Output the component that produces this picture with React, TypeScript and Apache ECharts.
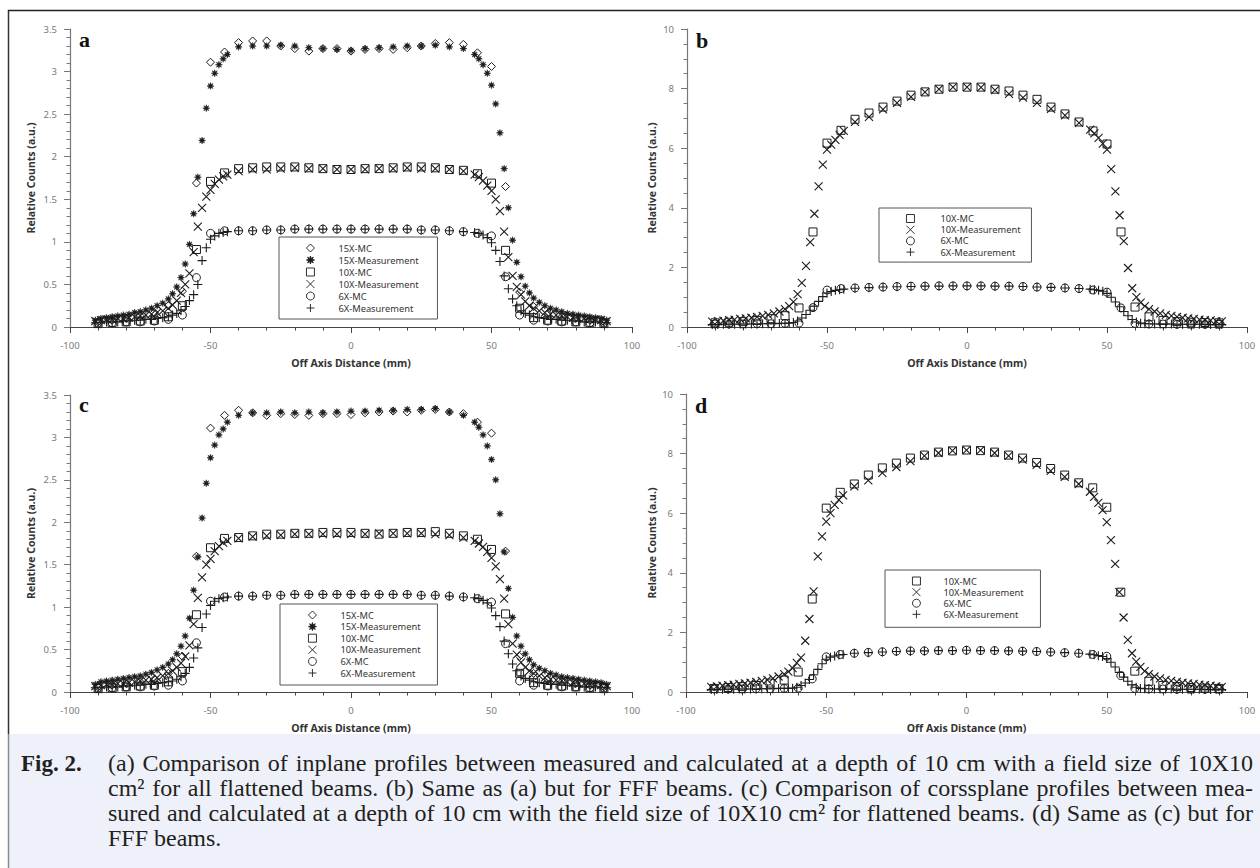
import React, { useEffect, useRef } from 'react';
import * as echarts from 'echarts';

const FONT = 'Noto Sans';
const SERIF = 'Liberation Serif';

// ---------- data ----------
const xMC = [-90, -85, -80, -75, -70, -65, -60, -55, -50, -45, -40, -35, -30, -25, -20, -15, -10, -5, 0,
  5, 10, 15, 20, 25, 30, 35, 40, 45, 50, 55, 60, 65, 70, 75, 80, 85, 90];

const xMeas = [-91, -89, -87, -85, -83, -81, -79, -77, -75, -73, -71, -69, -67, -65,
  -63.5, -62, -60.5, -59, -57.5, -56, -54.5, -53, -51.5, -50, -48.5, -47, -45.5, -44,
  -40, -35, -30, -25, -20, -15, -10, -5, 0, 5, 10, 15, 20, 25, 30, 35, 40,
  44, 45.5, 47, 48.5, 50, 51.5, 53, 54.5, 56, 57.5, 59, 60.5, 62, 63.5,
  65, 67, 69, 71, 73, 75, 77, 79, 81, 83, 85, 87, 89, 91];

// panel a: inplane, flattened
const aMC15 = [0.06, 0.08, 0.10, 0.13, 0.17, 0.25, 0.42, 1.69, 3.11, 3.23, 3.34, 3.36, 3.36, 3.30, 3.27, 3.24, 3.27, 3.27, 3.24,
  3.26, 3.27, 3.26, 3.28, 3.30, 3.33, 3.34, 3.32, 3.22, 3.06, 1.65, 0.41, 0.24, 0.16, 0.12, 0.10, 0.08, 0.06];
const aMeas15 = [0.08, 0.10, 0.11, 0.12, 0.13, 0.14, 0.15, 0.17, 0.18, 0.20, 0.22, 0.25, 0.28, 0.33,
  0.39, 0.47, 0.58, 0.74, 0.97, 1.33, 1.76, 2.19, 2.57, 2.83, 2.98, 3.08, 3.15, 3.20,
  3.29, 3.30, 3.30, 3.31, 3.30, 3.28, 3.27, 3.26, 3.25, 3.27, 3.28, 3.29, 3.30, 3.30, 3.31, 3.29, 3.27,
  3.20, 3.15, 3.08, 2.98, 2.84, 2.62, 2.28, 1.86, 1.40, 1.02, 0.76, 0.59, 0.48, 0.40,
  0.34, 0.29, 0.25, 0.22, 0.20, 0.18, 0.16, 0.15, 0.14, 0.13, 0.12, 0.11, 0.10, 0.08];
const aMC10 = [0.04, 0.05, 0.06, 0.07, 0.08, 0.12, 0.25, 0.91, 1.71, 1.81, 1.86, 1.87, 1.88, 1.88, 1.88, 1.87, 1.86, 1.85, 1.85,
  1.86, 1.86, 1.87, 1.88, 1.88, 1.87, 1.85, 1.84, 1.80, 1.69, 0.90, 0.22, 0.11, 0.08, 0.07, 0.06, 0.05, 0.04];
const aMeas10 = [0.07, 0.08, 0.09, 0.09, 0.10, 0.10, 0.11, 0.12, 0.13, 0.14, 0.15, 0.17, 0.19, 0.22,
  0.26, 0.31, 0.40, 0.50, 0.63, 0.88, 1.18, 1.40, 1.53, 1.61, 1.68, 1.73, 1.77, 1.79,
  1.83, 1.85, 1.85, 1.86, 1.87, 1.86, 1.86, 1.85, 1.85, 1.85, 1.86, 1.86, 1.87, 1.86, 1.86, 1.85, 1.83,
  1.79, 1.76, 1.72, 1.66, 1.60, 1.50, 1.36, 1.12, 0.82, 0.60, 0.47, 0.38, 0.30, 0.25,
  0.22, 0.19, 0.17, 0.15, 0.14, 0.13, 0.12, 0.11, 0.10, 0.10, 0.09, 0.09, 0.08, 0.07];
const aMC6 = [0.05, 0.05, 0.06, 0.06, 0.07, 0.09, 0.14, 0.58, 1.10, 1.13, 1.13, 1.13, 1.14, 1.14, 1.15, 1.15, 1.15, 1.15, 1.15,
  1.15, 1.15, 1.15, 1.15, 1.14, 1.14, 1.13, 1.12, 1.10, 1.07, 0.59, 0.14, 0.08, 0.07, 0.06, 0.06, 0.05, 0.05];
const aMeas6 = [0.05, 0.05, 0.06, 0.06, 0.06, 0.07, 0.07, 0.08, 0.08, 0.09, 0.09, 0.10, 0.11, 0.12,
  0.14, 0.16, 0.19, 0.24, 0.31, 0.38, 0.50, 0.78, 0.93, 1.03, 1.07, 1.10, 1.11, 1.12,
  1.13, 1.13, 1.14, 1.14, 1.15, 1.15, 1.15, 1.15, 1.15, 1.15, 1.15, 1.15, 1.15, 1.14, 1.14, 1.13, 1.12,
  1.11, 1.10, 1.08, 1.05, 0.99, 0.90, 0.77, 0.60, 0.45, 0.33, 0.25, 0.19, 0.16, 0.14,
  0.12, 0.11, 0.10, 0.09, 0.09, 0.08, 0.08, 0.07, 0.07, 0.06, 0.06, 0.06, 0.05, 0.05];

// panel b: inplane, FFF
const bMC10 = [0.14, 0.16, 0.18, 0.22, 0.28, 0.38, 0.64, 3.19, 6.17, 6.60, 6.97, 7.18, 7.38, 7.58, 7.78, 7.89, 7.98, 8.05, 8.05,
  8.05, 7.98, 7.92, 7.78, 7.64, 7.38, 7.15, 6.88, 6.58, 6.14, 3.19, 0.67, 0.34, 0.22, 0.18, 0.16, 0.15, 0.14];
const bMeas10 = [0.18, 0.20, 0.21, 0.23, 0.25, 0.27, 0.29, 0.31, 0.34, 0.37, 0.41, 0.46, 0.52, 0.60,
  0.70, 0.84, 1.10, 1.48, 2.05, 2.85, 3.80, 4.72, 5.45, 5.95, 6.12, 6.28, 6.45, 6.58,
  6.88, 7.05, 7.30, 7.52, 7.72, 7.88, 7.98, 8.05, 8.05, 8.04, 7.95, 7.82, 7.70, 7.52, 7.32, 7.10, 6.85,
  6.62, 6.50, 6.35, 6.15, 5.95, 5.30, 4.55, 3.75, 2.88, 1.98, 1.30, 1.00, 0.82, 0.70,
  0.60, 0.52, 0.46, 0.41, 0.37, 0.34, 0.31, 0.29, 0.27, 0.25, 0.23, 0.22, 0.20, 0.19];
const bMC6 = [0.10, 0.10, 0.10, 0.11, 0.11, 0.12, 0.13, 0.65, 1.24, 1.29, 1.31, 1.33, 1.34, 1.36, 1.37, 1.37, 1.38, 1.38, 1.38,
  1.38, 1.37, 1.37, 1.36, 1.34, 1.33, 1.31, 1.29, 1.24, 1.17, 0.64, 0.12, 0.10, 0.10, 0.09, 0.09, 0.09, 0.09];
const bMeas6 = [0.08, 0.08, 0.09, 0.09, 0.09, 0.10, 0.10, 0.10, 0.10, 0.11, 0.11, 0.11, 0.12, 0.12,
  0.13, 0.15, 0.20, 0.30, 0.42, 0.56, 0.70, 0.86, 1.02, 1.14, 1.19, 1.23, 1.25, 1.27,
  1.30, 1.32, 1.34, 1.35, 1.36, 1.37, 1.37, 1.38, 1.38, 1.38, 1.37, 1.37, 1.36, 1.34, 1.33, 1.31, 1.29,
  1.27, 1.25, 1.23, 1.20, 1.13, 1.00, 0.84, 0.68, 0.52, 0.38, 0.25, 0.17, 0.13, 0.11,
  0.11, 0.10, 0.10, 0.10, 0.10, 0.09, 0.09, 0.09, 0.09, 0.09, 0.08, 0.08, 0.08, 0.08];

// panel c: crossplane, flattened
const cMC15 = [0.06, 0.08, 0.10, 0.12, 0.15, 0.22, 0.42, 1.60, 3.11, 3.26, 3.32, 3.29, 3.26, 3.28, 3.27, 3.26, 3.28, 3.28, 3.27,
  3.29, 3.30, 3.31, 3.30, 3.32, 3.33, 3.30, 3.28, 3.18, 3.05, 1.66, 0.42, 0.22, 0.15, 0.12, 0.10, 0.08, 0.06];
const cMeas15 = [0.09, 0.12, 0.13, 0.14, 0.15, 0.16, 0.17, 0.18, 0.19, 0.21, 0.23, 0.26, 0.29, 0.33,
  0.38, 0.45, 0.54, 0.66, 0.87, 1.20, 1.59, 2.05, 2.46, 2.76, 2.91, 3.03, 3.10, 3.18,
  3.26, 3.29, 3.29, 3.30, 3.29, 3.30, 3.29, 3.30, 3.31, 3.31, 3.32, 3.32, 3.33, 3.33, 3.34, 3.30, 3.26,
  3.18, 3.12, 3.03, 2.90, 2.74, 2.50, 2.10, 1.65, 1.22, 0.88, 0.66, 0.54, 0.45, 0.38,
  0.32, 0.28, 0.25, 0.22, 0.20, 0.18, 0.17, 0.16, 0.15, 0.14, 0.13, 0.12, 0.11, 0.09];
const cMC10 = [0.04, 0.05, 0.06, 0.07, 0.08, 0.12, 0.24, 0.91, 1.70, 1.81, 1.82, 1.84, 1.86, 1.86, 1.87, 1.87, 1.88, 1.88, 1.88,
  1.87, 1.86, 1.87, 1.88, 1.88, 1.89, 1.87, 1.84, 1.80, 1.68, 0.92, 0.22, 0.11, 0.08, 0.07, 0.06, 0.05, 0.04];
const cMeas10 = [0.07, 0.08, 0.09, 0.09, 0.10, 0.10, 0.11, 0.12, 0.13, 0.14, 0.15, 0.17, 0.19, 0.22,
  0.25, 0.29, 0.34, 0.42, 0.55, 0.80, 1.11, 1.35, 1.50, 1.57, 1.66, 1.72, 1.76, 1.78,
  1.81, 1.83, 1.84, 1.85, 1.86, 1.86, 1.86, 1.86, 1.86, 1.86, 1.87, 1.87, 1.87, 1.87, 1.86, 1.85, 1.82,
  1.78, 1.75, 1.71, 1.65, 1.58, 1.48, 1.33, 1.10, 0.80, 0.57, 0.44, 0.35, 0.29, 0.25,
  0.22, 0.19, 0.17, 0.15, 0.14, 0.13, 0.12, 0.11, 0.10, 0.10, 0.09, 0.09, 0.08, 0.07];
const cMC6 = [0.05, 0.05, 0.06, 0.06, 0.07, 0.08, 0.13, 0.58, 1.07, 1.12, 1.13, 1.13, 1.14, 1.14, 1.15, 1.15, 1.15, 1.15, 1.15,
  1.15, 1.15, 1.15, 1.15, 1.14, 1.14, 1.13, 1.12, 1.10, 1.06, 0.57, 0.13, 0.08, 0.07, 0.06, 0.06, 0.05, 0.05];
const cMeas6 = [0.05, 0.05, 0.06, 0.06, 0.06, 0.07, 0.07, 0.08, 0.08, 0.09, 0.09, 0.10, 0.11, 0.12,
  0.13, 0.15, 0.18, 0.22, 0.29, 0.40, 0.52, 0.76, 0.92, 1.02, 1.07, 1.10, 1.11, 1.12,
  1.13, 1.13, 1.14, 1.14, 1.15, 1.15, 1.15, 1.15, 1.15, 1.15, 1.15, 1.15, 1.15, 1.14, 1.14, 1.13, 1.12,
  1.11, 1.10, 1.08, 1.05, 0.99, 0.90, 0.77, 0.60, 0.45, 0.33, 0.25, 0.19, 0.16, 0.14,
  0.12, 0.11, 0.10, 0.09, 0.09, 0.08, 0.08, 0.07, 0.07, 0.06, 0.06, 0.06, 0.05, 0.05];

// panel d: crossplane, FFF
const dMC10 = [0.12, 0.15, 0.18, 0.22, 0.30, 0.40, 0.67, 3.12, 6.17, 6.70, 6.98, 7.28, 7.52, 7.68, 7.85, 7.95, 8.05, 8.09, 8.12,
  8.10, 8.05, 7.95, 7.85, 7.70, 7.50, 7.28, 7.02, 6.85, 6.20, 3.35, 0.70, 0.36, 0.22, 0.18, 0.15, 0.13, 0.12];
const dMeas10 = [0.17, 0.19, 0.21, 0.23, 0.25, 0.27, 0.29, 0.31, 0.34, 0.37, 0.41, 0.46, 0.52, 0.60,
  0.68, 0.80, 0.98, 1.15, 1.72, 2.45, 3.38, 4.55, 5.22, 5.72, 6.00, 6.28, 6.45, 6.60,
  6.90, 7.10, 7.35, 7.55, 7.75, 7.92, 8.02, 8.10, 8.12, 8.12, 8.02, 7.92, 7.80, 7.62, 7.42, 7.22, 6.98,
  6.72, 6.55, 6.35, 6.10, 5.70, 5.10, 4.30, 3.35, 2.50, 1.75, 1.30, 1.02, 0.84, 0.70,
  0.60, 0.52, 0.46, 0.41, 0.37, 0.34, 0.31, 0.29, 0.27, 0.25, 0.23, 0.21, 0.19, 0.17];
const dMC6 = [0.10, 0.10, 0.10, 0.11, 0.11, 0.12, 0.13, 0.44, 1.18, 1.26, 1.30, 1.33, 1.35, 1.37, 1.38, 1.38, 1.39, 1.39, 1.40,
  1.39, 1.39, 1.38, 1.37, 1.36, 1.34, 1.32, 1.30, 1.26, 1.20, 0.55, 0.12, 0.10, 0.10, 0.09, 0.09, 0.09, 0.09];
const dMeas6 = [0.08, 0.08, 0.09, 0.09, 0.09, 0.10, 0.10, 0.10, 0.10, 0.11, 0.11, 0.11, 0.12, 0.12,
  0.12, 0.13, 0.16, 0.22, 0.30, 0.42, 0.58, 0.76, 0.95, 1.10, 1.17, 1.21, 1.24, 1.26,
  1.30, 1.32, 1.34, 1.36, 1.37, 1.38, 1.39, 1.39, 1.40, 1.39, 1.39, 1.38, 1.37, 1.36, 1.34, 1.32, 1.30,
  1.27, 1.25, 1.22, 1.19, 1.12, 1.00, 0.84, 0.66, 0.50, 0.36, 0.24, 0.16, 0.12, 0.11,
  0.11, 0.10, 0.10, 0.10, 0.10, 0.09, 0.09, 0.09, 0.09, 0.09, 0.08, 0.08, 0.08, 0.08];

// ---------- labels ----------
const LEGEND_FLAT = ['15X-MC', '15X-Measurement', '10X-MC', '10X-Measurement', '6X-MC', '6X-Measurement'];
const LEGEND_FFF = ['10X-MC', '10X-Measurement', '6X-MC', '6X-Measurement'];
const Y_TITLE = 'Relative Counts (a.u.)';
const X_TITLE = 'Off Axis Distance (mm)';
const PANEL_LETTERS = ['a', 'b', 'c', 'd'];
const CAPTION_LABEL = 'Fig. 2.';
const CAPTION_LINES = [
  '(a) Comparison of inplane profiles between measured and calculated at a depth of 10 cm with a field size of 10X10',
  'cm\u00B2 for all flattened beams. (b) Same as (a) but for FFF beams. (c) Comparison of corssplane profiles between mea-',
  'sured and calculated at a depth of 10 cm with the field size of 10X10 cm\u00B2 for flattened beams. (d) Same as (c) but for',
  'FFF beams.',
];

// ---------- styling ----------
const INK = '#1c1c1c';
const CLEAR = 'rgba(0,0,0,0)';
const SYMBOLS: Record<string, { symbol: string; size: number; fill: string; bw: number }> = {
  '15X-MC': { symbol: 'path://M5,0L10,5L5,10L0,5Z', size: 8, fill: CLEAR, bw: 1 },
  '15X-Measurement': {
    symbol: 'path://M5,0L5.84,2.97L8.54,1.46L7.03,4.16L10,5L7.03,5.84L8.54,8.54L5.84,7.03L5,10L4.16,7.03L1.46,8.54L2.97,5.84L0,5L2.97,4.16L1.46,1.46L4.16,2.97Z',
    size: 7, fill: INK, bw: 0.5,
  },
  '10X-MC': { symbol: 'rect', size: 8, fill: CLEAR, bw: 1 },
  '10X-Measurement': { symbol: 'path://M0,0L10,10M10,0L0,10', size: 8, fill: CLEAR, bw: 1.1 },
  '6X-MC': { symbol: 'circle', size: 8, fill: CLEAR, bw: 1 },
  '6X-Measurement': { symbol: 'path://M5,0L5,10M0,5L10,5', size: 9, fill: CLEAR, bw: 1.1 },
};

const GRIDS = [
  { left: 70, top: 29, width: 562, height: 298 },
  { left: 687, top: 29, width: 560, height: 298 },
  { left: 70, top: 395, width: 562, height: 297 },
  { left: 686, top: 394, width: 561, height: 298 },
];

function pairs(xs: number[], ys: number[]) {
  const out: number[][] = [];
  for (let i = 0; i < xs.length && i < ys.length; i++) out.push([xs[i], ys[i]]);
  return out;
}

function scatter(name: string, idx: number, xs: number[], ys: number[]) {
  const s = SYMBOLS[name];
  return {
    type: 'scatter',
    name,
    xAxisIndex: idx,
    yAxisIndex: idx,
    data: pairs(xs, ys),
    symbol: s.symbol,
    symbolSize: s.size,
    itemStyle: { color: s.fill, borderColor: INK, borderWidth: s.bw, opacity: 1 },
    silent: true,
    emphasis: { disabled: true },
  };
}

function xAxisCfg(i: number) {
  return {
    type: 'value', gridIndex: i, min: -100, max: 100, interval: 50,
    name: X_TITLE, nameLocation: 'middle', nameGap: 30,
    nameTextStyle: { fontFamily: FONT, fontSize: 10.5, fontWeight: 'bold', color: '#333' },
    axisLine: { show: true, onZero: false, lineStyle: { color: '#444', width: 1.2 } },
    axisTick: { show: true, length: 6, lineStyle: { color: '#444', width: 1 } },
    minorTick: { show: true, splitNumber: 5, length: 3.5, lineStyle: { color: '#444', width: 1 } },
    axisLabel: { fontFamily: FONT, fontSize: 9.5, color: '#7a7a7a', margin: 13 },
    splitLine: { show: false },
  };
}

function yAxisCfg(i: number) {
  const flat = i === 0 || i === 2;
  const gaps = [34, 30, 34, 29];
  return {
    type: 'value', gridIndex: i, min: 0, max: flat ? 3.5 : 10, interval: flat ? 0.5 : 2,
    name: Y_TITLE, nameLocation: 'middle', nameGap: gaps[i], nameRotate: 90,
    nameTextStyle: { fontFamily: FONT, fontSize: 10.5, fontWeight: 'bold', color: '#333' },
    axisLine: { show: true, onZero: false, lineStyle: { color: '#777', width: 1.2 } },
    axisTick: { show: true, length: 6, lineStyle: { color: '#777', width: 1 } },
    minorTick: { show: true, splitNumber: flat ? 5 : 4, length: 3.5, lineStyle: { color: '#777', width: 1 } },
    axisLabel: { fontFamily: FONT, fontSize: 9.5, color: '#7a7a7a', margin: 13 },
    splitLine: { show: false },
  };
}

function legendCfg(names: string[], left: number, top: number, pad: number[], gap: number, textPad: number, textW: number) {
  return {
    data: names, orient: 'vertical', left, top, padding: pad, itemGap: gap,
    itemWidth: 8, itemHeight: 8, selectedMode: false,
    borderColor: '#555', borderWidth: 1, backgroundColor: '#fff',
    itemStyle: { borderWidth: 0.9 },
    textStyle: { fontFamily: FONT, fontSize: 9.3, color: '#333', lineHeight: 10, padding: [0, 0, 0, textPad], width: textW, overflow: 'none' },
  };
}

function buildGraphics() {
  const els: any[] = [];
  els.push({ type: 'rect', silent: true, z: -10, shape: { x: 8, y: 734, width: 1252, height: 134 }, style: { fill: '#eef1f9' } });
  els.push({ type: 'line', silent: true, shape: { x1: 8.5, y1: 10, x2: 8.5, y2: 734 }, style: { stroke: '#333', lineWidth: 1.5 } });
  els.push({ type: 'line', silent: true, shape: { x1: 8.5, y1: 734, x2: 8.5, y2: 868 }, style: { stroke: '#8a8a8a', lineWidth: 1.5 } });
  els.push({ type: 'line', silent: true, shape: { x1: 8, y1: 10.5, x2: 1260, y2: 10.5 }, style: { stroke: '#222', lineWidth: 1.5 } });

  const letterPos = [[79, 39.5], [696, 40.5], [79, 404.5], [695, 405.5]];
  PANEL_LETTERS.forEach((l, i) => {
    els.push({
      type: 'text', silent: true, x: letterPos[i][0], y: letterPos[i][1],
      style: { text: l, fontFamily: SERIF, fontSize: 22, fontWeight: 'bold', fill: '#111', align: 'left', verticalAlign: 'middle' },
    });
  });

  const ys = [763, 788, 813, 838];
  const fontSize = 24;
  els.push({
    type: 'text', silent: true, x: 21, y: ys[0],
    style: { text: CAPTION_LABEL, fontFamily: SERIF, fontSize: 23, fontWeight: 'bold', fill: '#231f20', align: 'left', verticalAlign: 'middle' },
  });
  const canvas = document.createElement('canvas');
  const ctx = canvas.getContext('2d') as CanvasRenderingContext2D;
  ctx.font = `${fontSize}px "${SERIF}"`;
  const x0 = 108;
  const x1 = 1253;
  CAPTION_LINES.forEach((line, i) => {
    const words = line.split(' ');
    const widths = words.map((w) => ctx.measureText(w).width);
    const total = widths.reduce((s, w) => s + w, 0);
    const justify = i < CAPTION_LINES.length - 1;
    const gap = justify ? (x1 - x0 - total) / (words.length - 1) : ctx.measureText(' ').width;
    let x = x0;
    words.forEach((w, j) => {
      els.push({
        type: 'text', silent: true, x, y: ys[i],
        style: { text: w, fontFamily: SERIF, fontSize, fill: '#231f20', align: 'left', verticalAlign: 'middle' },
      });
      x += widths[j] + gap;
    });
  });
  return els;
}

export default function App() {
  const ref = useRef<HTMLDivElement>(null);
  useEffect(() => {
    if (!ref.current) return;
    const chart = echarts.init(ref.current, undefined, { renderer: 'svg' });
    const series = [
      scatter('6X-Measurement', 0, xMeas, aMeas6),
      scatter('6X-MC', 0, xMC, aMC6),
      scatter('10X-Measurement', 0, xMeas, aMeas10),
      scatter('10X-MC', 0, xMC, aMC10),
      scatter('15X-Measurement', 0, xMeas, aMeas15),
      scatter('15X-MC', 0, xMC, aMC15),

      scatter('6X-Measurement', 1, xMeas, bMeas6),
      scatter('6X-MC', 1, xMC, bMC6),
      scatter('10X-Measurement', 1, xMeas, bMeas10),
      scatter('10X-MC', 1, xMC, bMC10),

      scatter('6X-Measurement', 2, xMeas, cMeas6),
      scatter('6X-MC', 2, xMC, cMC6),
      scatter('10X-Measurement', 2, xMeas, cMeas10),
      scatter('10X-MC', 2, xMC, cMC10),
      scatter('15X-Measurement', 2, xMeas, cMeas15),
      scatter('15X-MC', 2, xMC, cMC15),

      scatter('6X-Measurement', 3, xMeas, dMeas6),
      scatter('6X-MC', 3, xMC, dMC6),
      scatter('10X-Measurement', 3, xMeas, dMeas10),
      scatter('10X-MC', 3, xMC, dMC10),
    ];
    const option: any = {
      animation: false,
      backgroundColor: '#ffffff',
      grid: GRIDS,
      xAxis: [0, 1, 2, 3].map(xAxisCfg),
      yAxis: [0, 1, 2, 3].map(yAxisCfg),
      legend: [
        legendCfg(LEGEND_FLAT, 279, 237, [6, 0, 6, 27], 2, 19, 99),
        legendCfg(LEGEND_FFF, 879, 208, [5.5, 0, 5, 27], 1.2, 21, 91),
        legendCfg(LEGEND_FLAT, 280, 604, [6, 0, 7, 28], 1.6, 19, 97),
        legendCfg(LEGEND_FFF, 885, 570, [6, 0, 8, 27], 1.1, 18, 97),
      ],
      series,
      graphic: { elements: buildGraphics() },
    };
    chart.setOption(option);
    return () => chart.dispose();
  }, []);
  return <div ref={ref} style={{ position: 'absolute', left: 0, top: 0, width: 1260, height: 868 }} />;
}
